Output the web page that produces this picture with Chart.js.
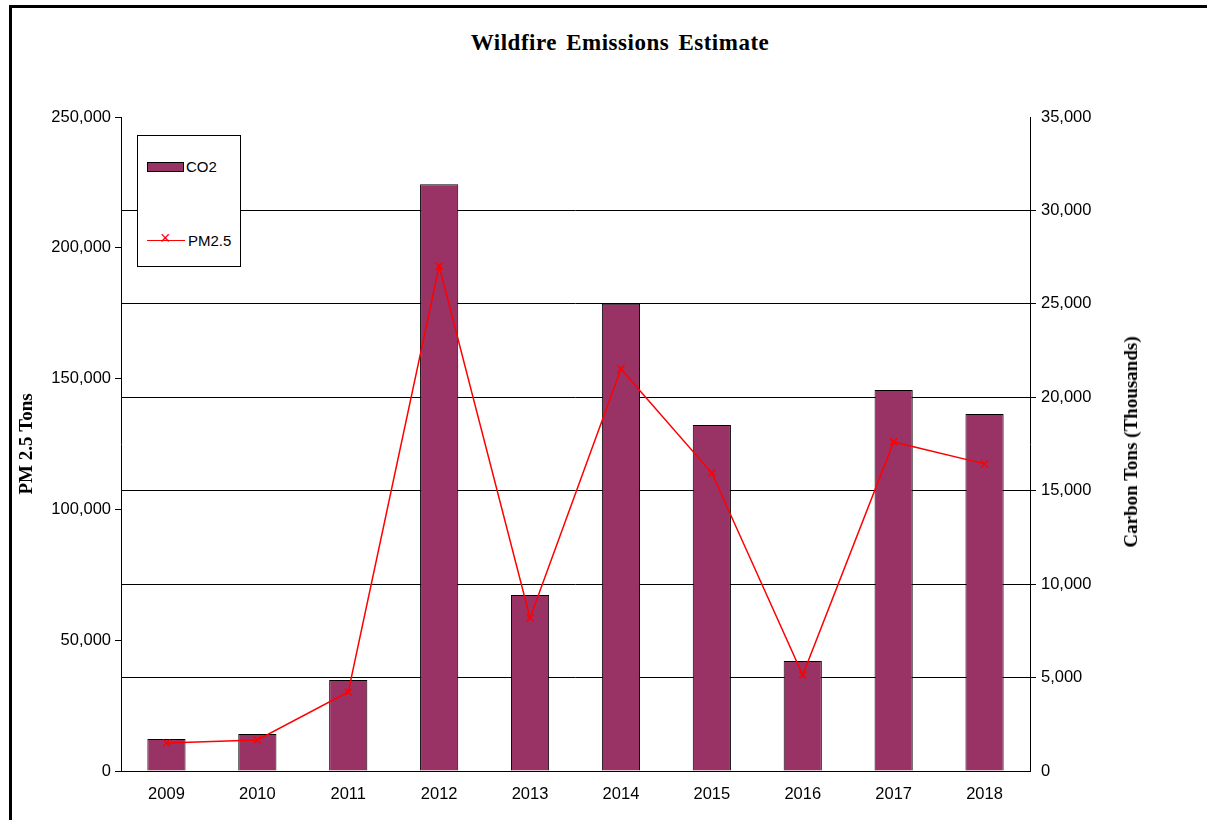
<!DOCTYPE html>
<html>
<head>
<meta charset="utf-8">
<script src="https://cdn.jsdelivr.net/npm/chart.js@4"></script>
<style>
  body { margin: 0; background: #fff; }
  #wrap { position: relative; width: 1207px; height: 820px; overflow: hidden; }
  #frame { position: absolute; left: 9px; top: 5px; width: 1220px; height: 840px; border: 3px solid #000; box-sizing: border-box; }
  #title { position: absolute; top: 30px; left: 0; width: 1240px; text-align: center; font: bold 23px "Liberation Serif", serif; letter-spacing: 0.5px; word-spacing: 3px; }
  #rtitle { position: absolute; left: 1131px; top: 442px; transform: translate(-50%, -50%) rotate(-90deg); white-space: nowrap; font: bold 19px "Liberation Serif", serif; }
  #legend { position: absolute; left: 137px; top: 135px; width: 102px; height: 130px; border: 1px solid #000; background: #fff; font: 15px "Liberation Sans", Arial, sans-serif; }
  .item { position: absolute; left: 9px; display: flex; align-items: center; }
  .sw { width: 35px; height: 8px; background: #993366; border: 1px solid #000; margin-right: 2px; }
  .ln { width: 38px; height: 16px; margin-right: 3px; position: relative; }
  .ln::before { content: ""; position: absolute; left: 0; right: 0; top: 7px; border-top: 1.5px solid #f00; }
  .ln::after { content: "\00d7"; position: absolute; left: 13px; top: -5px; color: #f00; font-size: 18px; }
  canvas { position: absolute; left: 0; top: 0; }
</style>
</head>
<body>
<div id="wrap">
  <div id="frame"></div>
  <div id="title">Wildfire Emissions Estimate</div>
  <canvas id="c" width="1207" height="820"></canvas>
  <div id="rtitle">Carbon Tons (Thousands)</div>
  <div id="legend">
    <div class="item" style="top:22px"><span class="sw"></span>CO2</div>
    <div class="item" style="top:96px"><span class="ln"></span>PM2.5</div>
  </div>
</div>
<script>
const years = ["2009", "2010", "2011", "2012", "2013", "2014", "2015", "2016", "2017", "2018"];
const co2 = [1710, 1980, 4870, 31400, 9420, 25000, 18520, 5890, 20390, 19100];
const pm25 = [10700, 11850, 30200, 193000, 58500, 153700, 113900, 36700, 125800, 117400];

const tickFont = { family: "Liberation Sans", size: 16.5 };
const titleFont = { family: "Liberation Serif", size: 19, weight: "bold" };

new Chart(document.getElementById("c"), {
    data: {
        labels: years,
        datasets: [
            { type: "line", label: "PM2.5", data: pm25, yAxisID: "yL", borderColor: "#ff0000", borderWidth: 1.5,
              pointStyle: "crossRot", pointRadius: 5, pointBorderColor: "#ff0000", pointBorderWidth: 1.5, tension: 0 },
            { type: "bar", label: "CO2", data: co2, yAxisID: "yR", backgroundColor: "#993366", borderColor: "#000",
              borderWidth: 1, barPercentage: 0.42, categoryPercentage: 1 }
        ]
    },
    options: {
        responsive: false,
        animation: false,
        layout: { padding: { left: 12, right: 30, top: 117, bottom: 0 } },
        plugins: { legend: { display: false }, tooltip: { enabled: false } },
        scales: {
            x: {
                grid: { display: false },
                border: { color: "#000" },
                ticks: { color: "#000", font: tickFont, padding: 6 },
                afterFit: s => { s.height = 49; }
            },
            yL: {
                position: "left", min: 0, max: 250000,
                ticks: { stepSize: 50000, color: "#000", font: tickFont, padding: 4 },
                grid: { drawOnChartArea: false, color: "#000", tickLength: 6 },
                border: { color: "#000" },
                title: { display: true, text: "PM 2.5 Tons", color: "#000", font: titleFont },
                afterFit: s => { s.width = 109; }
            },
            yR: {
                position: "right", min: 0, max: 35000,
                ticks: { stepSize: 5000, color: "#000", font: tickFont, padding: 5 },
                grid: { color: ctx => ctx.tick.value === 0 || ctx.tick.value === 35000 ? "rgba(0,0,0,0)" : "#000", tickLength: 6, lineWidth: 1 },
                border: { color: "#000" },
                afterFit: s => { s.width = 147; }
            }
        }
    }
});
</script>
</body>
</html>
